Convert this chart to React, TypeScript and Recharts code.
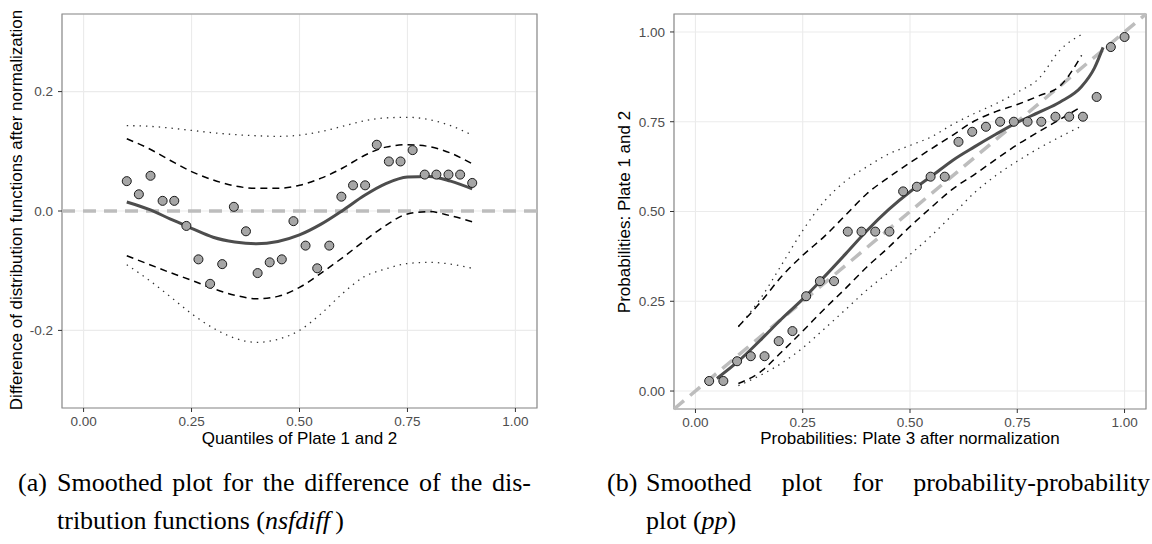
import {
  ComposedChart,
  Line,
  Scatter,
  XAxis,
  YAxis,
  CartesianGrid,
  ReferenceLine,
  ReferenceArea,
} from "recharts";

// (a) nsfdiff: quantiles vs difference of distribution functions
const quantX = [
  0.1, 0.128, 0.155, 0.183, 0.21, 0.238, 0.266, 0.293, 0.321, 0.348, 0.376, 0.403, 0.431, 0.459, 0.486,
  0.514, 0.541, 0.569, 0.597, 0.624, 0.652, 0.679, 0.707, 0.734, 0.762, 0.79, 0.817, 0.845, 0.872, 0.9,
];
const diffY = [
  0.05, 0.028, 0.059, 0.017, 0.017, -0.025, -0.081, -0.122, -0.089, 0.007, -0.034, -0.104, -0.086, -0.081, -0.017,
  -0.058, -0.096, -0.058, 0.024, 0.043, 0.043, 0.111, 0.083, 0.083, 0.102, 0.061, 0.061, 0.061, 0.061, 0.047,
];
const bandX = [0.1, 0.15, 0.2, 0.25, 0.3, 0.35, 0.4, 0.45, 0.5, 0.55, 0.6, 0.65, 0.7, 0.75, 0.8, 0.85, 0.9];
const diffSmooth = [
  0.015, 0.003, -0.013, -0.029, -0.044, -0.052, -0.055, -0.051, -0.04, -0.022, 0.001, 0.026, 0.046, 0.057, 0.058, 0.05, 0.037,
];
const diffUpper = [
  0.121, 0.105, 0.085, 0.066, 0.052, 0.042, 0.038, 0.038, 0.043, 0.055, 0.072, 0.093, 0.107, 0.111, 0.108, 0.097, 0.079,
];
const diffLower = [
  -0.075, -0.089, -0.103, -0.116, -0.13, -0.141, -0.147, -0.143, -0.128, -0.104, -0.078, -0.05, -0.024, -0.005, -0.001, -0.008, -0.018,
];
const diffUpperOuter = [
  0.143, 0.142, 0.139, 0.135, 0.131, 0.128, 0.126, 0.125, 0.127, 0.133, 0.142, 0.151, 0.156, 0.157, 0.153, 0.143, 0.127,
];
const diffLowerOuter = [
  -0.09, -0.115, -0.143, -0.172, -0.196, -0.213, -0.22, -0.215, -0.2, -0.172, -0.138, -0.11, -0.097, -0.088, -0.086, -0.089, -0.096,
];

// (b) pp plot
const ppX = [
  0.032, 0.065, 0.097, 0.129, 0.161, 0.194, 0.226, 0.258, 0.29, 0.323, 0.355, 0.387, 0.419, 0.452, 0.484, 0.516,
  0.548, 0.581, 0.613, 0.645, 0.677, 0.71, 0.742, 0.774, 0.806, 0.839, 0.871, 0.903, 0.935, 0.968, 1.0,
];
const ppY = [
  0.028, 0.028, 0.083, 0.097, 0.097, 0.139, 0.167, 0.264, 0.306, 0.306, 0.444, 0.444, 0.444, 0.444, 0.556, 0.569,
  0.597, 0.597, 0.694, 0.722, 0.736, 0.75, 0.75, 0.75, 0.75, 0.764, 0.764, 0.764, 0.819, 0.958, 0.986,
];
const ppSmoothX = [0.05, 0.1, 0.15, 0.2, 0.25, 0.3, 0.35, 0.4, 0.45, 0.5, 0.55, 0.6, 0.65, 0.7, 0.75, 0.8, 0.85, 0.9, 0.93, 0.95];
const ppSmooth = [
  0.035, 0.083, 0.14, 0.2, 0.256, 0.318, 0.382, 0.447, 0.505, 0.555, 0.598, 0.643, 0.68, 0.715, 0.748, 0.776, 0.805, 0.848, 0.9, 0.957,
];
const ppUpper = [
  0.18, 0.245, 0.318, 0.378, 0.43, 0.49, 0.55, 0.595, 0.636, 0.675, 0.713, 0.752, 0.778, 0.798, 0.822, 0.85, 0.935,
];
const ppLower = [
  0.021, 0.052, 0.108, 0.167, 0.228, 0.286, 0.346, 0.4, 0.458, 0.512, 0.563, 0.603, 0.645, 0.686, 0.722, 0.757, 0.792,
];
const ppUpperOuter = [
  0.179, 0.255, 0.35, 0.447, 0.528, 0.585, 0.625, 0.66, 0.684, 0.708, 0.743, 0.773, 0.8, 0.832, 0.87, 0.95, 0.993,
];
const ppLowerOuter = [
  0.015, 0.043, 0.077, 0.12, 0.173, 0.227, 0.282, 0.33, 0.38, 0.433, 0.492, 0.552, 0.6, 0.64, 0.676, 0.708, 0.738,
];

const unitTicks = [0, 0.25, 0.5, 0.75, 1];

const zip = (xs: number[], ys: number[]) => xs.map((x, i) => ({ x, y: ys[i] }));

const SANS = "'Liberation Sans', Arial, sans-serif";
const SERIF = "'Liberation Serif', 'Times New Roman', serif";
const tickStyle = { fill: "#4d4d4d", fontSize: 13.5, fontFamily: SANS };
const titleStyle: React.CSSProperties = {
  position: "absolute",
  fontFamily: SANS,
  fontSize: 17,
  color: "#000",
  whiteSpace: "nowrap",
};
const captionStyle: React.CSSProperties = {
  position: "absolute",
  fontFamily: SERIF,
  fontSize: 26,
  lineHeight: "38px",
  color: "#000",
  whiteSpace: "nowrap",
};

function bandLines(upper: any[], lower: any[], upperOuter: any[], lowerOuter: any[]) {
  return [
    <Line key="uo" data={upperOuter} dataKey="y" type="monotone" stroke="#333" strokeWidth={1.3} strokeDasharray="1.4 5" dot={false} activeDot={false} isAnimationActive={false} />,
    <Line key="lo" data={lowerOuter} dataKey="y" type="monotone" stroke="#333" strokeWidth={1.3} strokeDasharray="1.4 5" dot={false} activeDot={false} isAnimationActive={false} />,
    <Line key="u" data={upper} dataKey="y" type="monotone" stroke="#000" strokeWidth={1.5} strokeDasharray="7 5" dot={false} activeDot={false} isAnimationActive={false} />,
    <Line key="l" data={lower} dataKey="y" type="monotone" stroke="#000" strokeWidth={1.5} strokeDasharray="7 5" dot={false} activeDot={false} isAnimationActive={false} />,
  ];
}

export default function App() {
  const diffPoints = zip(quantX, diffY);
  const ppPoints = zip(ppX, ppY);

  return (
    <div style={{ position: "absolute", left: 0, top: 0, width: 1152, height: 544, background: "#fff", overflow: "hidden" }}>
      <div style={{ position: "absolute", left: 0, top: 0 }}>
        <ComposedChart width={560} height={450} margin={{ top: 14, right: 23, bottom: 12, left: 22 }}>
          <CartesianGrid stroke="#ebebeb" strokeWidth={1.1} />
          <XAxis
            type="number"
            dataKey="x"
            domain={[-0.05, 1.05]}
            ticks={unitTicks}
            interval={0}
            allowDataOverflow
            tickFormatter={(v: number) => v.toFixed(2)}
            axisLine={false}
            tickLine={{ stroke: "#333" }}
            tickSize={4}
            tickMargin={4}
            tick={tickStyle}
            height={30}
          />
          <YAxis
            type="number"
            dataKey="y"
            domain={[-0.33, 0.33]}
            ticks={[-0.2, 0, 0.2]}
            interval={0}
            allowDataOverflow
            tickFormatter={(v: number) => v.toFixed(1)}
            axisLine={false}
            tickLine={{ stroke: "#333" }}
            tickSize={4}
            tickMargin={5}
            tick={tickStyle}
            width={40}
          />
          <ReferenceLine y={0} stroke="#bdbdbd" strokeWidth={3.5} strokeDasharray="13 8" />
          {bandLines(zip(bandX, diffUpper), zip(bandX, diffLower), zip(bandX, diffUpperOuter), zip(bandX, diffLowerOuter))}
          <Line data={zip(bandX, diffSmooth)} dataKey="y" type="monotone" stroke="#4d4d4d" strokeWidth={3} dot={false} activeDot={false} isAnimationActive={false} />
          <Scatter data={diffPoints} fill="#a6a6a6" stroke="#1a1a1a" strokeWidth={1} isAnimationActive={false} />
          <ReferenceArea x1={-0.05} x2={1.05} y1={-0.33} y2={0.33} fill="none" stroke="#8c8c8c" strokeWidth={1.2} ifOverflow="visible" />
        </ComposedChart>
      </div>

      <div style={{ position: "absolute", left: 580, top: 0 }}>
        <ComposedChart width={572} height={450} margin={{ top: 14, right: 6, bottom: 11, left: 49 }}>
          <CartesianGrid stroke="#ebebeb" strokeWidth={1.1} />
          <XAxis
            type="number"
            dataKey="x"
            domain={[-0.05, 1.05]}
            ticks={unitTicks}
            interval={0}
            allowDataOverflow
            tickFormatter={(v: number) => v.toFixed(2)}
            axisLine={false}
            tickLine={{ stroke: "#333" }}
            tickSize={4}
            tickMargin={4}
            tick={tickStyle}
            height={30}
          />
          <YAxis
            type="number"
            dataKey="y"
            domain={[-0.05, 1.05]}
            ticks={unitTicks}
            interval={0}
            allowDataOverflow
            tickFormatter={(v: number) => v.toFixed(2)}
            axisLine={false}
            tickLine={{ stroke: "#333" }}
            tickSize={4}
            tickMargin={5}
            tick={tickStyle}
            width={45}
          />
          <ReferenceLine
            segment={[{ x: -0.05, y: -0.05 }, { x: 1.05, y: 1.05 }]}
            stroke="#bdbdbd"
            strokeWidth={3.5}
            strokeDasharray="13 8"
          />
          {bandLines(zip(bandX, ppUpper), zip(bandX, ppLower), zip(bandX, ppUpperOuter), zip(bandX, ppLowerOuter))}
          <Line data={zip(ppSmoothX, ppSmooth)} dataKey="y" type="monotone" stroke="#4d4d4d" strokeWidth={3} dot={false} activeDot={false} isAnimationActive={false} />
          <Scatter data={ppPoints} fill="#a6a6a6" stroke="#1a1a1a" strokeWidth={1} isAnimationActive={false} />
          <ReferenceArea x1={-0.05} x2={1.05} y1={-0.05} y2={1.05} fill="none" stroke="#8c8c8c" strokeWidth={1.2} ifOverflow="visible" />
        </ComposedChart>
      </div>

      {/* axis titles */}
      <div style={{ ...titleStyle, left: 17, top: 210, transform: "translate(-50%, -50%) rotate(-90deg)" }}>
        Difference of distribution functions after normalization
      </div>
      <div style={{ ...titleStyle, left: 299.5, top: 439, transform: "translate(-50%, -50%)" }}>
        Quantiles of Plate 1 and 2
      </div>
      <div style={{ ...titleStyle, left: 625, top: 211.5, transform: "translate(-50%, -50%) rotate(-90deg)" }}>
        Probabilities: Plate 1 and 2
      </div>
      <div style={{ ...titleStyle, left: 910, top: 439, transform: "translate(-50%, -50%)" }}>
        Probabilities: Plate 3 after normalization
      </div>

      {/* sub-captions */}
      <div style={{ ...captionStyle, left: 18, top: 464 }}>(a)</div>
      <div style={{ ...captionStyle, left: 57, top: 464, width: 474, textAlign: "justify", textAlignLast: "justify" }}>
        Smoothed plot for the difference of the dis-
      </div>
      <div style={{ ...captionStyle, left: 57, top: 502 }}>
        tribution functions (<i>nsfdiff</i>&thinsp;)
      </div>
      <div style={{ ...captionStyle, left: 607, top: 464 }}>(b)</div>
      <div style={{ ...captionStyle, left: 646, top: 464, width: 504, textAlign: "justify", textAlignLast: "justify" }}>
        Smoothed plot for probability-probability
      </div>
      <div style={{ ...captionStyle, left: 646, top: 502 }}>
        plot (<i>pp</i>)
      </div>
    </div>
  );
}
